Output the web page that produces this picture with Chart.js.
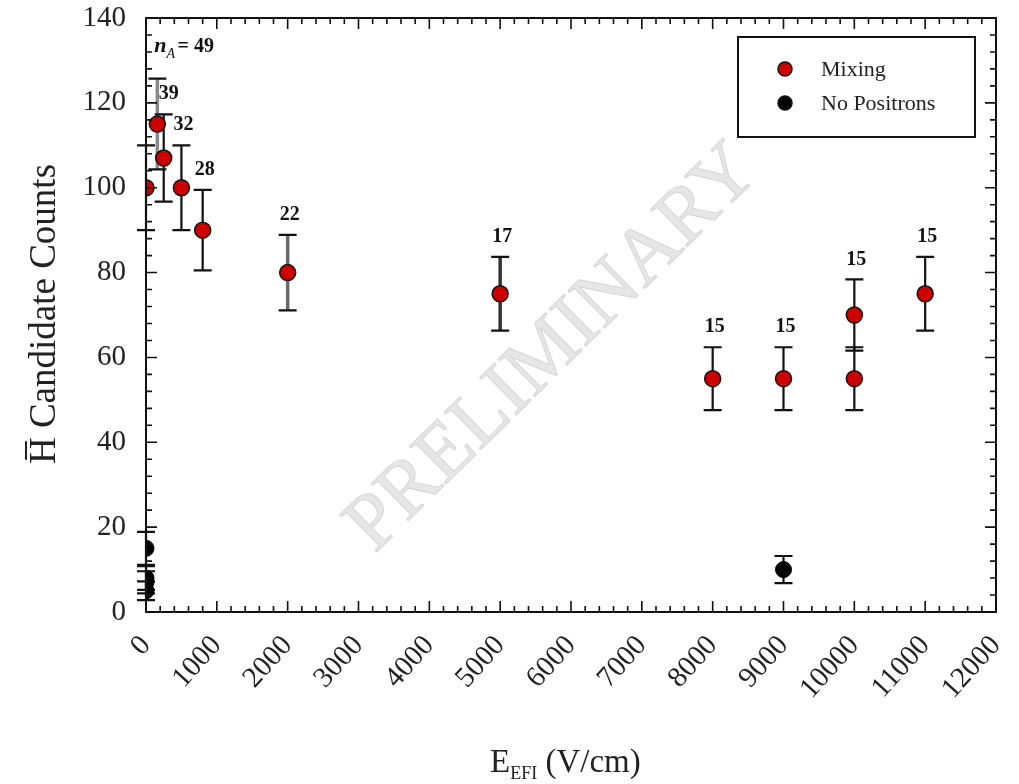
<!DOCTYPE html>
<html lang="en">
<head>
    <meta charset="UTF-8">
    <title>Hbar candidate counts vs E_EFI</title>
    <script src="https://cdn.jsdelivr.net/npm/chart.js@4.4.0/dist/chart.umd.min.js"></script>
    <style>
        html, body { margin: 0; padding: 0; background: #fff; }
        #wrap { width: 1019px; height: 784px; }
    </style>
</head>
<body>
    <div id="wrap"><canvas id="chart"></canvas></div>
    <script>
        // mixing runs
        var mixE      = [0, 160, 250, 500, 800, 2000, 5000, 8000, 9000, 10000, 10000, 11000]
        var mixCounts = [100, 115, 107, 100, 90, 80, 75, 55, 55, 70, 55, 75]
        var mixErr    = [10, 10.7, 10.3, 10, 9.5, 8.9, 8.7, 7.4, 7.4, 8.4, 7.4, 8.7]
        var mixLabels = ["", "49", "39", "32", "28", "22", "17", "15", "15", "15", "", "15"]

        // no positron runs
        var noPosE      = [0, 0, 0, 0, 9000]
        var noPosCounts = [15, 8, 7, 5, 10]
        var noPosErr    = [3.9, 2.8, 2.6, 2.2, 3.2]

        var xTicks = [0, 1000, 2000, 3000, 4000, 5000, 6000, 7000, 8000, 9000, 10000, 11000, 12000]
        var yTicks = [0, 20, 40, 60, 80, 100, 120, 140]

        var SERIF = "'Liberation Serif', 'DejaVu Serif', serif"

        function pts(xs, ys) {
            var out = []
            for (var i = 0; i < xs.length; i++) out.push({x: xs[i], y: ys[i]})
            return out
        }

        // keep the plot box where the original has it
        function noPad(s) {
            s.paddingLeft = 0; s.paddingRight = 0; s.paddingTop = 0; s.paddingBottom = 0
        }

        var decor = {
            id: "decor",
            beforeDatasetsDraw: function(chart) {
                var ctx = chart.ctx, a = chart.chartArea
                var xs = chart.scales.x, ys = chart.scales.y

                // watermark
                ctx.save()
                ctx.translate(xs.getPixelForValue(5750), ys.getPixelForValue(62))
                ctx.rotate(-44.5 * Math.PI / 180)
                ctx.font = "80px " + SERIF
                ctx.fillStyle = "#e6e6e6"
                ctx.strokeStyle = "#d6d6d6"
                ctx.lineWidth = 1
                ctx.textAlign = "center"
                ctx.textBaseline = "middle"
                ctx.fillText("PRELIMINARY", 0, 0)
                ctx.strokeText("PRELIMINARY", 0, 0)
                ctx.restore()

                // error bars
                function bars(E, C, Er, colors) {
                    for (var i = 0; i < E.length; i++) {
                        var px = xs.getPixelForValue(E[i])
                        var top = ys.getPixelForValue(C[i] + Er[i])
                        var bot = ys.getPixelForValue(C[i] - Er[i])
                        ctx.strokeStyle = colors ? colors[i] : "#111"
                        ctx.lineWidth = colors && colors[i] != "#111" ? 3.5 : 2.2
                        ctx.beginPath(); ctx.moveTo(px, top); ctx.lineTo(px, bot); ctx.stroke()
                        ctx.strokeStyle = "#111"
                        ctx.lineWidth = 2.2
                        ctx.beginPath()
                        ctx.moveTo(px - 9, top); ctx.lineTo(px + 9, top)
                        ctx.moveTo(px - 9, bot); ctx.lineTo(px + 9, bot)
                        ctx.stroke()
                    }
                }
                var barCol = ["#111", "#8a8a8a", "#111", "#111", "#111", "#6a6a6a", "#333", "#111", "#111", "#111", "#111", "#111"]
                ctx.save()
                bars(mixE, mixCounts, mixErr, barCol)
                bars(noPosE, noPosCounts, noPosErr, null)
                ctx.restore()
            },
            afterDatasetsDraw: function(chart) {
                var ctx = chart.ctx, a = chart.chartArea
                var xs = chart.scales.x, ys = chart.scales.y
                ctx.save()

                // frame
                ctx.strokeStyle = "#111"
                ctx.lineWidth = 2
                ctx.strokeRect(a.left, a.top, a.right - a.left, a.bottom - a.top)

                // inward ticks on all sides
                ctx.lineWidth = 1.6
                ctx.beginPath()
                for (var v = 0; v <= 12000; v += 200) {
                    var len = v % 1000 == 0 ? 11 : 6
                    var px = xs.getPixelForValue(v)
                    ctx.moveTo(px, a.bottom); ctx.lineTo(px, a.bottom - len)
                    ctx.moveTo(px, a.top); ctx.lineTo(px, a.top + len)
                }
                for (var w = 0; w <= 140; w += 4) {
                    var len2 = w % 20 == 0 ? 11 : 6
                    var py = ys.getPixelForValue(w)
                    ctx.moveTo(a.left, py); ctx.lineTo(a.left + len2, py)
                    ctx.moveTo(a.right, py); ctx.lineTo(a.right - len2, py)
                }
                ctx.stroke()

                // n_A labels
                ctx.fillStyle = "#111"
                ctx.textBaseline = "middle"
                for (var i = 0; i < mixE.length; i++) {
                    if (!mixLabels[i]) continue
                    var lx = xs.getPixelForValue(mixE[i])
                    var ly = ys.getPixelForValue(mixCounts[i] + mixErr[i])
                    if (i == 1) {
                        ctx.textAlign = "left"
                        ctx.font = "italic bold 22px " + SERIF
                        ctx.fillText("n", lx - 3, ly - 32)
                        var nw = ctx.measureText("n").width
                        ctx.font = "italic 14px " + SERIF
                        ctx.fillText("A", lx - 3 + nw, ly - 24)
                        ctx.font = "bold 20px " + SERIF
                        ctx.fillText("= " + mixLabels[i], lx - 3 + nw + 11, ly - 32)
                    } else {
                        ctx.textAlign = "center"
                        ctx.font = "bold 20px " + SERIF
                        ctx.fillText(mixLabels[i], lx + (i == 2 ? 5 : 2), ly - 20)
                    }
                }

                // legend
                ctx.lineWidth = 2
                ctx.strokeStyle = "#111"
                ctx.strokeRect(738, 37, 237, 100)
                var items = [["Mixing", "#cc0000"], ["No Positrons", "#000"]]
                for (var k = 0; k < items.length; k++) {
                    var cy = 69 + k * 34
                    ctx.beginPath()
                    ctx.arc(785, cy, 7, 0, Math.PI * 2)
                    ctx.fillStyle = items[k][1]
                    ctx.fill()
                    ctx.lineWidth = 1.5
                    ctx.stroke()
                    ctx.fillStyle = "#222"
                    ctx.font = "22px " + SERIF
                    ctx.textAlign = "left"
                    ctx.fillText(items[k][0], 821, cy + 1)
                }

                // axis titles
                ctx.fillStyle = "#222"
                ctx.textBaseline = "alphabetic"
                ctx.textAlign = "left"
                ctx.font = "33px " + SERIF
                var tx = 490, ty = 772
                ctx.fillText("E", tx, ty)
                var ew = ctx.measureText("E").width
                ctx.font = "18px " + SERIF
                ctx.fillText("EFI", tx + ew, ty + 7)
                var sw = ctx.measureText("EFI").width
                ctx.font = "33px " + SERIF
                ctx.fillText(" (V/cm)", tx + ew + sw, ty)

                ctx.save()
                ctx.translate(55, 314)
                ctx.rotate(-Math.PI / 2)
                ctx.textAlign = "center"
                ctx.font = "37px " + SERIF
                ctx.fillText("H\u0305 Candidate Counts", 0, 0)
                ctx.restore()

                ctx.restore()
            }
        }

        var chart_data = {
            type: "scatter",
            data: {
                datasets: [
                    {
                        label: "Mixing",
                        data: pts(mixE, mixCounts),
                        backgroundColor: "#cc0000",
                        borderColor: "#111",
                        borderWidth: 1.5,
                        pointRadius: 8,
                        pointHoverRadius: 8
                    },
                    {
                        label: "No Positrons",
                        data: pts(noPosE, noPosCounts),
                        backgroundColor: "#000",
                        borderColor: "#000",
                        borderWidth: 1,
                        pointRadius: 8,
                        pointHoverRadius: 8
                    }
                ]
            },
            options: {
                responsive: false,
                animation: false,
                events: [],
                layout: { padding: { top: 18, right: 23, left: 0, bottom: 0 } },
                plugins: {
                    legend: { display: false },
                    tooltip: { enabled: false }
                },
                scales: {
                    x: {
                        type: "linear",
                        min: 0, max: 12000,
                        afterBuildTicks: function(s) { s.ticks = xTicks.map(function(v) { return {value: v} }) },
                        afterFit: function(s) { s.height = 172; noPad(s) },
                        grid: { display: false },
                        border: { display: false },
                        ticks: {
                            minRotation: 48, maxRotation: 48,
                            padding: 9,
                            color: "#222",
                            font: { family: SERIF, size: 29 },
                            callback: function(v) { return String(v) }
                        }
                    },
                    y: {
                        min: 0, max: 140,
                        afterBuildTicks: function(s) { s.ticks = yTicks.map(function(v) { return {value: v} }) },
                        afterFit: function(s) { s.width = 146; noPad(s) },
                        grid: { display: false },
                        border: { display: false },
                        ticks: {
                            padding: 12,
                            color: "#222",
                            font: { family: SERIF, size: 29 }
                        }
                    }
                }
            },
            plugins: [decor]
        }

        var canvas = document.getElementById("chart")
        canvas.width = 1019
        canvas.height = 784
        var chart = new Chart(canvas, chart_data)
    </script>
</body>
</html>
